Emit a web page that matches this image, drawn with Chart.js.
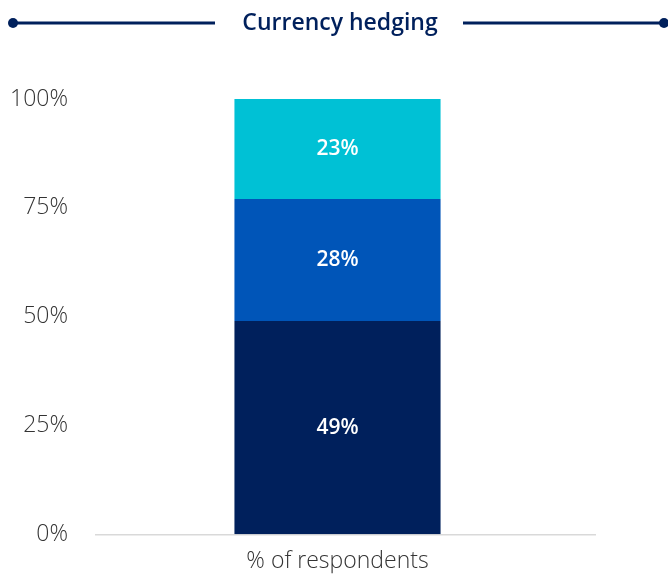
<!DOCTYPE html>
<html>
<head>
<meta charset="utf-8">
<script src="https://cdn.jsdelivr.net/npm/chart.js@4"></script>
<style>
  html, body { margin: 0; padding: 0; background: #ffffff; }
  #wrap { width: 668px; height: 575px; position: relative; }
</style>
</head>
<body>
<div id="wrap"><canvas id="c" width="668" height="575"></canvas></div>
<script>
// Survey question and the single stacked column
const chartTitle = 'Currency hedging';
const categories = ['% of respondents'];

// Answer shares, bottom to top
const seriesNames = ['Hedged', 'Partly hedged', 'Not hedged'];
const seriesValues = [[49], [28], [23]];
const seriesColors = ['#00205c', '#0055b8', '#00c1d5'];

// Y axis ticks
const yTicks = [0, 25, 50, 75, 100];

const FONT = '"Open Sans", Lato, sans-serif';

// Title with rule lines and end dots on both sides
const titleRule = {
  id: 'titleRule',
  afterDraw(chart) {
    const ctx = chart.ctx;
    const w = chart.width;
    const y = 23;
    ctx.save();
    ctx.font = '600 23px ' + FONT;
    ctx.fillStyle = '#00205c';
    ctx.textAlign = 'center';
    ctx.textBaseline = 'middle';
    ctx.fillText(chartTitle, 340, y);
    ctx.strokeStyle = '#00205c';
    ctx.lineWidth = 3;
    ctx.beginPath();
    ctx.moveTo(13, y); ctx.lineTo(215, y);
    ctx.moveTo(463, y); ctx.lineTo(w - 8, y);
    ctx.stroke();
    ctx.beginPath(); ctx.arc(13, y, 5, 0, Math.PI * 2); ctx.fill();
    ctx.beginPath(); ctx.arc(w - 4, y, 5, 0, Math.PI * 2); ctx.fill();
    ctx.restore();
  }
};

// Light baseline running a little past the plot area
const baseline = {
  id: 'baseline',
  beforeDatasetsDraw(chart) {
    const { ctx, chartArea } = chart;
    const y = chart.scales.y.getPixelForValue(0) + 0.5;
    ctx.save();
    ctx.strokeStyle = '#d9d9d9';
    ctx.lineWidth = 1.5;
    ctx.beginPath();
    ctx.moveTo(chartArea.left, y);
    ctx.lineTo(chartArea.right + 16, y);
    ctx.stroke();
    ctx.restore();
  }
};

// Value labels centred in each segment
const segmentLabels = {
  id: 'segmentLabels',
  afterDatasetsDraw(chart) {
    const ctx = chart.ctx;
    ctx.save();
    ctx.font = '600 21px ' + FONT;
    ctx.fillStyle = '#ffffff';
    ctx.textAlign = 'center';
    ctx.textBaseline = 'middle';
    chart.data.datasets.forEach((ds, i) => {
      chart.getDatasetMeta(i).data.forEach((bar, j) => {
        const p = bar.getProps(['x', 'y', 'base'], true);
        ctx.fillText(ds.data[j] + '%', p.x, (p.y + p.base) / 2);
      });
    });
    ctx.restore();
  }
};

new Chart(document.getElementById('c'), {
  type: 'bar',
  data: {
    labels: categories,
    datasets: seriesNames.map((name, i) => ({
      label: name,
      data: seriesValues[i],
      backgroundColor: seriesColors[i],
      borderWidth: 0,
      barPercentage: 0.425,
      categoryPercentage: 1
    }))
  },
  options: {
    responsive: false,
    animation: false,
    devicePixelRatio: 1,
    layout: { padding: { top: 99, right: 88, left: 6, bottom: 0 } },
    plugins: {
      legend: { display: false },
      tooltip: { enabled: false },
      title: { display: false }
    },
    scales: {
      x: {
        stacked: true,
        grid: { display: false, drawTicks: false },
        border: { display: false },
        ticks: { color: '#333333', font: { family: FONT, size: 23, weight: '300' }, padding: 13 },
        afterFit(axis) { axis.height = 39; }
      },
      y: {
        stacked: true,
        min: yTicks[0],
        max: yTicks[yTicks.length - 1],
        afterBuildTicks(axis) { axis.ticks = yTicks.map(v => ({ value: v })); },
        grid: { display: false, drawTicks: false },
        border: { display: false },
        ticks: {
          color: '#333333',
          font: { family: FONT, size: 23, weight: '300' },
          padding: 27,
          callback: v => v + '%'
        },
        afterFit(axis) { axis.width = 89; }
      }
    }
  },
  plugins: [baseline, titleRule, segmentLabels]
});
</script>
</body>
</html>
